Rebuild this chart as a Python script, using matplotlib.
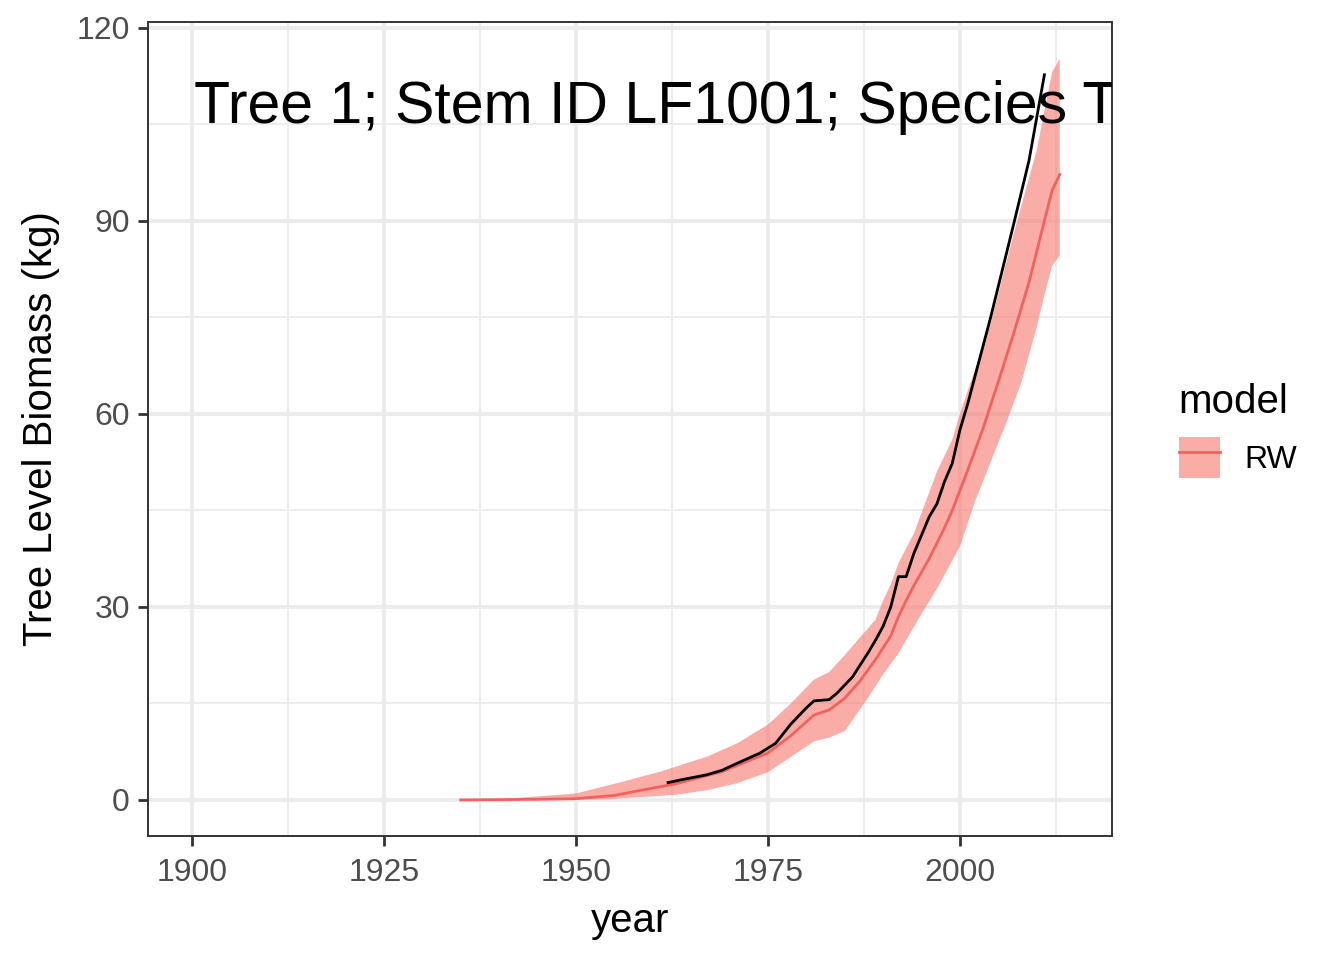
import matplotlib
matplotlib.use("Agg")
import matplotlib.pyplot as plt
from matplotlib.lines import Line2D
from matplotlib.patches import Patch
from matplotlib.ticker import MultipleLocator

plt.rcParams["font.family"] = ["Liberation Sans", "DejaVu Sans"]

# model RW: posterior mean with ribbon
rw_years = [1935, 1940, 1945, 1950, 1955, 1958, 1963, 1969, 1975, 1978, 1981, 1983,
            1985, 1987, 1989, 1991, 1992, 1993, 1994, 1996, 1998, 1999, 2001, 2003,
            2005, 2007, 2009, 2011, 2012, 2013]
rw_mean = [0.0, 0.05, 0.1, 0.2, 0.7, 1.4, 2.5, 4.4, 7.3, 10.0, 13.2, 14.0,
           15.8, 18.5, 21.8, 25.5, 28.5, 31.0, 33.3, 37.5, 42.3, 45.0, 51.2, 57.7,
           65.0, 72.5, 80.5, 90.0, 94.7, 97.2]

lo_years = [1935, 1950, 1954, 1963, 1967, 1971, 1975, 1978, 1981, 1983, 1985, 1988,
            1990, 1992, 1995, 1997, 2000, 2002, 2004, 2006, 2008, 2010, 2011, 2012, 2013]
rw_lo = [0.0, 0.05, 0.1, 0.8, 1.5, 2.6, 4.3, 6.7, 9.1, 9.7, 10.7, 15.8,
         19.5, 22.8, 28.9, 32.8, 39.4, 46.5, 52.5, 58.5, 64.9, 73.5, 78.5, 83.0, 84.6]

hi_years = [1935, 1941, 1950, 1956, 1961, 1967, 1971, 1975, 1978, 1981, 1983, 1985,
            1989, 1990, 1991, 1992, 1994, 1997, 1999, 2000, 2002, 2004, 2007, 2010,
            2012, 2013]
rw_hi = [0.0, 0.2, 1.0, 2.8, 4.4, 6.7, 8.8, 11.7, 15.0, 18.7, 19.9, 22.5,
         28.0, 31.0, 33.5, 36.8, 41.4, 51.0, 56.0, 60.0, 67.0, 74.0, 88.0, 101.0,
         113.1, 115.2]

# observed biomass (black line)
obs_years = [1962, 1964, 1967, 1969, 1971, 1974, 1976, 1978, 1980, 1981, 1983, 1984,
             1986, 1988, 1989, 1990, 1991, 1992, 1993, 1994, 1996, 1997, 1998, 1999,
             2000, 2001, 2002, 2004, 2007, 2009, 2011]
obs_biomass = [2.7, 3.2, 3.9, 4.6, 5.7, 7.3, 8.8, 11.8, 14.3, 15.4, 15.6, 16.6,
               19.1, 22.8, 24.8, 27.0, 30.0, 34.7, 34.7, 38.3, 44.0, 46.0, 49.5, 52.3,
               57.5, 61.5, 66.0, 75.0, 89.5, 99.4, 112.7]

label_text = "Tree 1; Stem ID LF1001; Species T"

RED = "#F8766D"
RED_LINE = "#F2625C"

fig = plt.figure(figsize=(13.44, 9.6), dpi=100)
ax = fig.add_axes([148 / 1344, 1 - 836 / 960, (1112 - 148) / 1344, (836 - 22) / 960])

# ribbon: build polygon from upper and lower edges
poly_x = hi_years + lo_years[::-1]
poly_y = rw_hi + rw_lo[::-1]
ax.fill(poly_x, poly_y, color=RED, alpha=0.6, lw=0, zorder=2)
ax.plot(rw_years, rw_mean, color=RED_LINE, lw=2.0, zorder=3)
ax.plot(obs_years, obs_biomass, color="black", lw=2.0, zorder=4)

ax.text(1900.3, 105.2, label_text, fontsize=42.5, ha="left", va="baseline",
        clip_on=True, zorder=5)

ax.set_xlim(1894.3, 2019.8)
ax.set_ylim(-5.6, 120.9)
ax.xaxis.set_major_locator(MultipleLocator(25))
ax.xaxis.set_minor_locator(MultipleLocator(12.5))
ax.yaxis.set_major_locator(MultipleLocator(30))
ax.yaxis.set_minor_locator(MultipleLocator(15))

ax.grid(which="major", color="#EBEBEB", lw=2.7, zorder=0)
ax.grid(which="minor", color="#EBEBEB", lw=1.35, zorder=0)
ax.set_axisbelow(True)
ax.tick_params(which="major", length=7, width=2, color="#333333",
               labelsize=23, labelcolor="#4D4D4D", pad=6)
ax.tick_params(axis="x", which="major", pad=9)
ax.tick_params(which="minor", length=0)
for s in ax.spines.values():
    s.set_color("#333333")
    s.set_linewidth(1.4)

ax.set_xlabel("year", fontsize=29, labelpad=10)
ax.set_ylabel("Tree Level Biomass (kg)", fontsize=29, labelpad=12)

handle = (Patch(facecolor=RED, alpha=0.6, lw=0), Line2D([], [], color=RED_LINE, lw=2.0))
leg = fig.legend([handle], ["RW"], title="model", loc="upper left",
                 bbox_to_anchor=(1166 / 1344, 1 - 370 / 960), frameon=False,
                 fontsize=23, title_fontsize=29, handlelength=1.3, handleheight=1.6,
                 handletextpad=0.75, borderaxespad=0)
leg._legend_box.align = "left"

fig.savefig("out.png", dpi=100)
